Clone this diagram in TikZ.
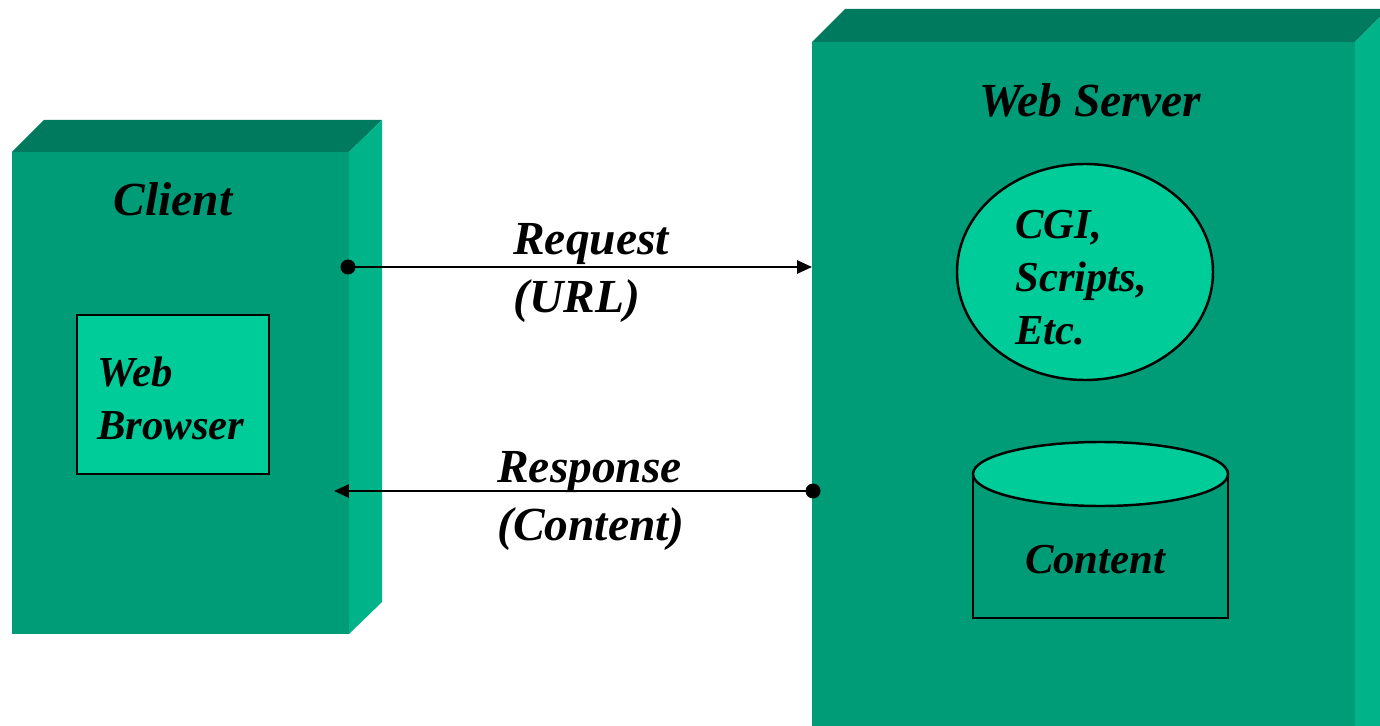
\documentclass[tikz,border=0pt]{standalone}
\usepackage{fontspec}
\setmainfont{Liberation Serif}
\usetikzlibrary{arrows.meta}
\definecolor{front}{HTML}{009B77}
\definecolor{topface}{HTML}{007A5E}
\definecolor{sideface}{HTML}{00B388}
\definecolor{inner}{HTML}{00CC99}
\tikzset{
	lbl/.style={font=\fontsize{27}{33}\selectfont\bfseries\itshape,inner sep=0pt},
	small/.style={font=\fontsize{24.3}{30}\selectfont\bfseries\itshape},
	msg/.style={line width=1.1pt,-{Triangle[length=8.5pt,width=7.5pt]}},
	dotmark/.style={circle,fill=black,inner sep=0pt,minimum size=0.3cm}
}
\begin{document}
\begin{tikzpicture}[x=0.02cm,y=-0.02cm]
	\useasboundingbox (0,0) rectangle (1380,726);
	\clip (0,0) rectangle (1380,726);
	\fill[front] (12,152) rectangle (349,634);
	\fill[topface] (12,152)--(44,120)--(382,120)--(349,152)--cycle;
	\fill[sideface] (349,152)--(382,120)--(382,602)--(349,634)--cycle;
	\fill[front] (812,42) rectangle (1355,726);
	\fill[topface] (812,42)--(845,9)--(1388,9)--(1355,42)--cycle;
	\fill[sideface] (1355,42)--(1388,9)--(1388,726)--(1355,726)--cycle;
	\draw[line width=1.4pt,fill=inner] (77,315) rectangle (269,474);
	\draw[line width=1.4pt,fill=inner] (1085,272) ellipse (128 and 108);
	\draw[line width=1.4pt,fill=front] (973,474)--(973,618)--(1228,618)--(1228,474);
	\draw[line width=1.4pt,fill=inner] (1100.5,474) ellipse (127.5 and 32);
	\node[lbl] (client) at (173,199) {Client};
	\node[lbl] (server) at (1090,100) {Web Server};
	\node[lbl,small,align=left,anchor=north west] (browser) at (97,357) {Web\\Browser};
	\node[lbl,small,align=left,anchor=north west] (cgi) at (1015,210) {CGI,\\Scripts,\\Etc.};
	\node[lbl,small] (content) at (1095,560) {Content};
	\coordinate (reqA) at (348,267);
	\coordinate (reqB) at (812,267);
	\coordinate (resA) at (813,491);
	\coordinate (resB) at (334,491);
	\draw[msg] (reqA)--(reqB);
	\draw[msg] (resA)--(resB);
	\node[dotmark] (reqdot) at (reqA) {};
	\node[dotmark] (resdot) at (resA) {};
	\node[lbl,align=left,anchor=north west] (request) at (513,223) {Request\\(URL)};
	\node[lbl,align=left,anchor=north west] (response) at (497,451) {Response\\(Content)};
\end{tikzpicture}
\end{document}
